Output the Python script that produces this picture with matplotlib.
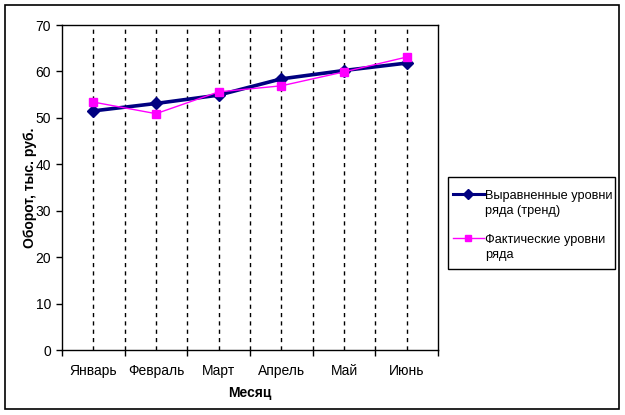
import matplotlib.pyplot as plt
from matplotlib.lines import Line2D
from matplotlib.patches import Rectangle

plt.rcParams["font.family"] = ["Liberation Sans", "DejaVu Sans"]

months = ["Январь", "Февраль", "Март", "Апрель", "Май", "Июнь"]
trend = [51.5, 53.1, 54.9, 58.4, 60.2, 61.8]
actual = [53.4, 50.9, 55.6, 56.9, 59.9, 63.1]
trend_label = "Выравненные уровни\nряда (тренд)"
actual_label = "Фактические уровни\nряда"

W, H = 625, 415
fig = plt.figure(figsize=(W / 100, H / 100), dpi=100)

# outer chart frame
fig.patches.append(Rectangle((5 / W, 1 - 409 / H), 614 / W, 404 / H,
                             transform=fig.transFigure, fill=False,
                             edgecolor="black", linewidth=1.2))

ax = fig.add_axes([62 / W, 1 - 350 / H, 376 / W, 325 / H])
x = list(range(len(months)))

ax.plot(x, trend, color="#000080", linewidth=2.6, marker="D",
        markersize=6.5, zorder=4)
ax.plot(x, actual, color="#FF00FF", linewidth=1.0, marker="s",
        markersize=5.5, zorder=5)

ax.set_xlim(-0.5, len(months) - 0.5)
ax.set_ylim(0, 70)
ax.set_yticks(range(0, 71, 10))

# boundaries: major ticks, centers: labels
ax.set_xticks([i + 0.5 for i in range(-1, len(months))])
ax.set_xticklabels([])
ax.set_xticks(x, minor=True)
ax.set_xticklabels(months, minor=True)
ax.tick_params(axis="x", which="major", direction="out", length=4, width=1)
ax.tick_params(axis="x", which="minor", length=0, pad=10, labelsize=10)
ax.tick_params(axis="y", direction="out", length=4, width=1, labelsize=10,
               pad=4)

# dashed lines at category centers and boundaries
for xv in [i * 0.5 for i in range(0, 11)]:
    ax.axvline(xv, color="black", linewidth=1, linestyle=(0, (3, 3)),
               zorder=1)

for sp in ax.spines.values():
    sp.set_color("black")
    sp.set_linewidth(1)

ax.set_xlabel("Месяц", fontsize=10, fontweight="bold", labelpad=6)
ax.set_ylabel("Оборот, тыс. руб.", fontsize=10, fontweight="bold",
              labelpad=-1)

# legend drawn by hand to keep the marker on the first text line
fig.patches.append(Rectangle((448 / W, 1 - 269 / H), 167 / W, 92 / H,
                             transform=fig.transFigure, fill=False,
                             edgecolor="black", linewidth=1))
entries = [(trend_label, 194, "#000080", 2.2, "D", 5),
           (actual_label, 238, "#FF00FF", 1.0, "s", 4.5)]
for label, yy, col, lw, mk, ms in entries:
    yf = 1 - yy / H
    fig.lines.append(Line2D([453 / W, 484 / W], [yf, yf], color=col,
                            linewidth=lw, transform=fig.transFigure))
    fig.lines.append(Line2D([468 / W], [yf], color=col, marker=mk,
                            markersize=ms, transform=fig.transFigure))
    fig.text(485 / W, yf + 4 / H, label, fontsize=9.2, va="top",
             ha="left", linespacing=1.3)

fig.savefig("out.png", dpi=100)
